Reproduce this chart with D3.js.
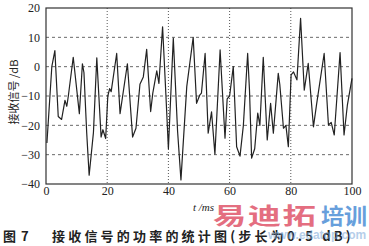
<!DOCTYPE html>
<html><head><meta charset="utf-8">
<script src="https://cdn.jsdelivr.net/npm/d3@7"></script>
<style>
html,body{margin:0;padding:0;background:#fff;}
svg{display:block;}
</style></head>
<body>
<svg id="c" width="369" height="246"></svg>
<script>
const times = [0.3,1.9,2.9,4.0,5.1,6.2,6.8,7.3,8.9,10.9,11.9,12.4,13.3,14.1,15.5,16.6,18.0,18.6,19.5,20.2,20.8,21.3,23.1,24.2,26.6,28.3,29.4,30.7,31.8,32.9,34.2,34.9,36.2,36.9,38.1,39.2,40.0,41.6,43.0,44.1,46.0,48.1,49.2,50.3,50.8,52.0,53.0,54.1,55.2,56.9,58.5,59.2,60.0,61.2,62.3,63.4,64.5,65.9,66.5,67.2,68.2,69.2,69.9,71.0,72.3,73.4,74.3,75.9,76.4,77.6,78.4,79.2,80.1,80.9,82.0,83.2,84.4,85.7,87.4,88.4,90.9,92.3,93.2,94.2,96.1,97.4,98.5,100];
const power = [-26,0,5.5,-17,-18,-11.5,-13.5,-10,3.2,-16,1,-2,-22.5,-37,-22.5,3,-24,-21.5,-24.5,-10,-7.5,-8.5,4.5,-16,1,-24,-21,-6,-3.5,5.9,-15.3,-9,-1.4,-5.7,13.6,-10,-28,9.7,-22,-38.6,-6.8,10,-12.5,-9.6,-9,4.5,-22.7,-15.4,-29.8,5.7,-24.4,-11,-10,0,-27.3,-30.5,-20,4.5,-8,-31.2,-28,-15.8,-20,3.2,-25,-12.5,-22.7,-2.3,-6,-21,-20,-27.3,-2.8,-1.8,-4.5,16.5,-8,1.1,-20.5,-13,4.5,-19.9,-19,-23.3,4.8,-23.3,-13,-4];
const xTicks = [0,20,40,60,80,100];
const yTicks = [20,10,0,-10,-20,-30,-40];
const xLabel = "t /ms";
const yLabel = "接收信号 /dB";
const captionFig = "图";
const captionNum = "7";
const captionBody = "接收信号的功率的统计图(步长为0.5 dB)";
const wmRed = "易迪拓";
const wmBlue = "培训";
const wmUrl = "www.edatop.com";

const svg = d3.select("#c");
const L=46,R=352,T=8,B=184;
const x = d3.scaleLinear().domain([0,100]).range([L,R]);
const y = d3.scaleLinear().domain([-40,20]).range([B,T]);

// grid
svg.append("g").selectAll("line").data(yTicks.filter(d=>d>-40&&d<20)).join("line")
  .attr("x1",L).attr("x2",R).attr("y1",d=>y(d)).attr("y2",d=>y(d))
  .attr("stroke","#444").attr("stroke-width",0.8).attr("stroke-dasharray","3,3");
svg.append("g").selectAll("line").data(xTicks.filter(d=>d>0&&d<100)).join("line")
  .attr("y1",T).attr("y2",B).attr("x1",d=>x(d)).attr("x2",d=>x(d))
  .attr("stroke","#444").attr("stroke-width",0.9).attr("stroke-dasharray","1,2");

// frame
svg.append("rect").attr("x",L).attr("y",T).attr("width",R-L).attr("height",B-T)
  .attr("fill","none").attr("stroke","#333").attr("stroke-width",1.2);

// axes
const ax = svg.append("g").attr("transform",`translate(0,${B})`)
  .call(d3.axisBottom(x).tickValues(xTicks).tickSize(0).tickPadding(2));
const ay = svg.append("g").attr("transform",`translate(${L},0)`)
  .call(d3.axisLeft(y).tickValues(yTicks).tickSize(0).tickPadding(6));
[ax,ay].forEach(a=>{a.select(".domain").remove();
  a.selectAll("text").attr("font-family","Liberation Serif, serif").attr("font-size",12).attr("fill","#222");});

// line
const data = times.map((t,i)=>({t,v:power[i]}));
svg.append("path").datum(data)
  .attr("d",d3.line().x(d=>x(d.t)).y(d=>y(d.v)))
  .attr("fill","none").attr("stroke","#222").attr("stroke-width",1.2).attr("stroke-linejoin","round");

// labels
svg.append("text").attr("x",193).attr("y",211).text(xLabel)
  .attr("font-family","Liberation Serif, serif").attr("font-style","italic").attr("font-size",11).attr("fill","#222");
svg.append("text").attr("transform","translate(18,92) rotate(-90)").attr("text-anchor","middle")
  .text(yLabel).attr("font-family","Noto Sans CJK SC, sans-serif").attr("font-size",11).attr("fill","#222");

// watermark
svg.append("text").attr("transform","translate(213,224) scale(1.45,1)").text(wmRed)
  .attr("font-family","Noto Sans CJK SC, sans-serif").attr("font-weight","bold").attr("font-size",23)
  .attr("letter-spacing",1).attr("fill","#e0556a").attr("opacity",0.85);
svg.append("text").attr("transform","translate(321,224) scale(1.05,1)").text(wmBlue)
  .attr("font-family","Noto Sans CJK SC, sans-serif").attr("font-weight","bold").attr("font-size",22)
  .attr("fill","#4d8fd6").attr("opacity",0.85);

// caption
const capStyle = s=>s.attr("font-family","Noto Sans CJK SC, sans-serif").attr("font-weight","bold")
  .attr("font-size",13).attr("fill","#222");
svg.append("text").attr("x",3).attr("y",241).text(captionFig).call(capStyle);
svg.append("text").attr("x",21).attr("y",241).text(captionNum).call(capStyle);
svg.append("text").attr("x",52).attr("y",241).text(captionBody).call(capStyle).attr("letter-spacing",3.2);
svg.append("text").attr("x",268).attr("y",239).text(wmUrl)
  .attr("font-family","Liberation Sans, sans-serif").attr("font-weight","bold").attr("font-size",12)
  .attr("fill","#7aa7d8").attr("opacity",0.55);
</script>
</body></html>
